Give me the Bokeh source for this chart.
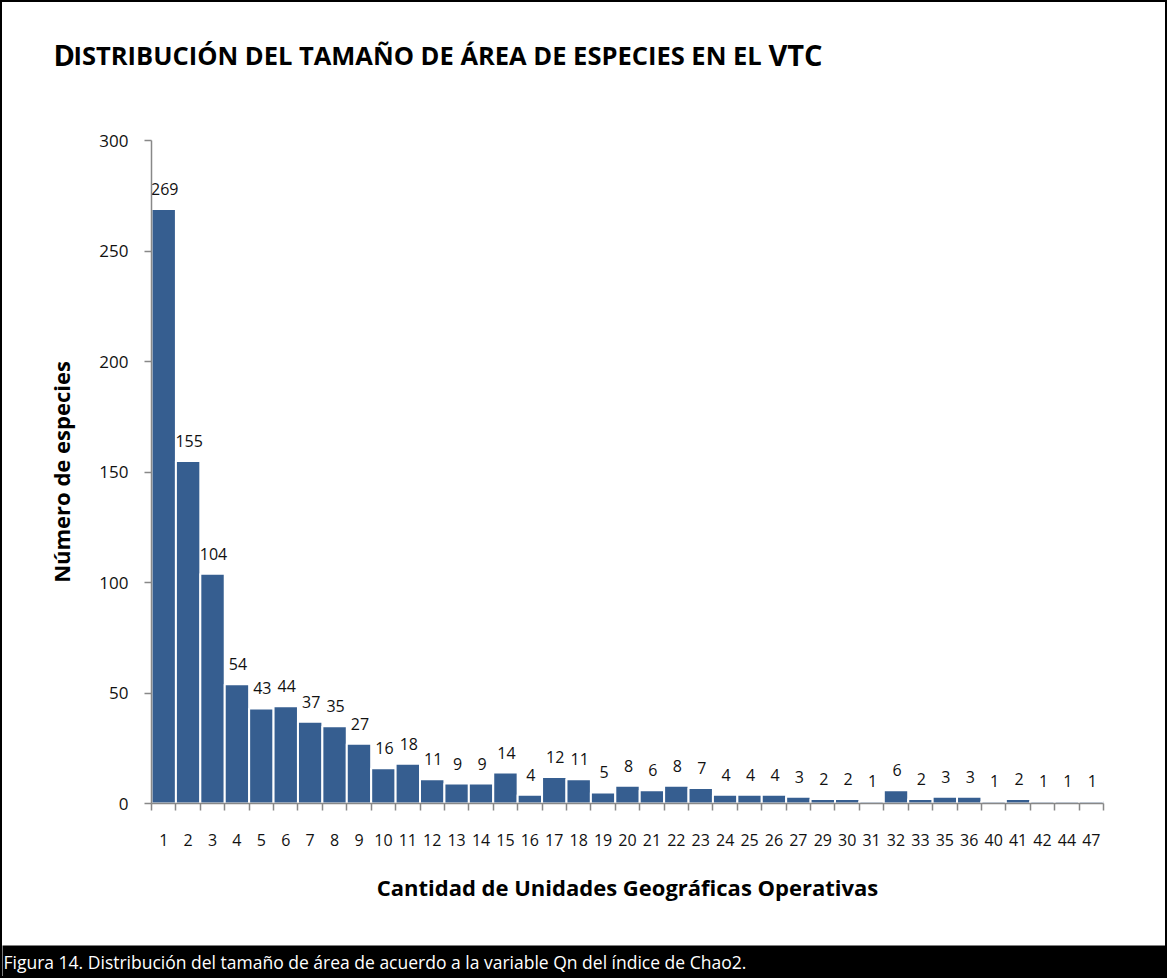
from bokeh.plotting import figure
from bokeh.layouts import column
from bokeh.models import FixedTicker, Range1d, ColumnDataSource
from bokeh.core.properties import value
from bokeh.embed import file_html
from bokeh.resources import INLINE

# ---- data ----
categories = ["1", "2", "3", "4", "5", "6", "7", "8", "9", "10", "11", "12", "13",
              "14", "15", "16", "17", "18", "19", "20", "21", "22", "23", "24", "25",
              "26", "27", "29", "30", "31", "32", "33", "35", "36", "40", "41", "42",
              "44", "47"]
counts = [269, 155, 104, 54, 43, 44, 37, 35, 27, 16, 18, 11, 9, 9, 14, 4, 12, 11, 5,
          8, 6, 8, 7, 4, 4, 4, 3, 2, 2, 1, 6, 2, 3, 3, 1, 2, 1, 1, 1]
y_ticks = [0, 50, 100, 150, 200, 250, 300]

title_big_1 = "D"
title_small = "ISTRIBUCIÓN DEL TAMAÑO DE ÁREA DE ESPECIES EN EL"
title_big_2 = "VTC"
x_label = "Cantidad de Unidades Geográficas Operativas"
y_label = "Número de especies"
caption = "Figura 14. Distribución del tamaño de área de acuerdo a la variable Qn del índice de Chao2."

IW = 1163            # inner width (inside 2px black frame)
H_TITLE, H_MAIN, H_CAP = 98, 845, 31
BAR = "#365E90"
AXIS = "#888888"
NUMFONT = "Open Sans"
FONT = "Open Sans"


def blank(height, bg):
    f = figure(width=IW, height=height, output_backend="svg", toolbar_location=None,
               x_range=Range1d(0, IW), y_range=Range1d(height, 0),
               x_axis_location=None, y_axis_location=None,
               min_border=0, min_border_left=0, min_border_right=0,
               min_border_top=0, min_border_bottom=0, frame_align=False)
    f.outline_line_color = None
    f.grid.grid_line_color = None
    f.background_fill_color = bg
    f.border_fill_color = bg
    return f


# ---- title strip (small caps emulated with two sizes) ----
t = blank(H_TITLE, "white")
t.text(x=[51], y=[52], text=[title_big_1], text_font=value(FONT), text_font_style="bold",
       text_font_size="29px", text_baseline="alphabetic", text_align="left",
       text_color="black")
t.text(x=[71], y=[52], text=[title_small], text_font=value(FONT), text_font_style="bold",
       text_font_size="25.5px", text_baseline="alphabetic", text_align="left",
       text_color="black")
t.text(x=[820], y=[52], text=[title_big_2], text_font=value(FONT), text_font_style="bold",
       text_font_size="29px", text_baseline="alphabetic", text_align="right",
       text_color="black")

# ---- main chart ----
pos = list(range(1, len(categories) + 1))
src = ColumnDataSource(dict(x=pos, top=counts, lab=[str(c) for c in counts]))

p = figure(width=IW, height=H_MAIN, output_backend="svg", toolbar_location=None,
           x_range=Range1d(0.5, len(categories) + 0.5), y_range=Range1d(0, 300),
           min_border_left=149, min_border_right=62, min_border_top=40,
           min_border_bottom=142, frame_align=False)
p.outline_line_color = None
p.grid.grid_line_color = None
p.background_fill_color = "white"
p.border_fill_color = "white"

p.vbar(x="x", top="top", width=1.0, source=src, fill_color=BAR,
       line_color="white", line_width=2)
p.text(x="x", y="top", text="lab", source=src, text_align="center",
       text_baseline="alphabetic", y_offset=-20, x_offset=1, text_font=value(NUMFONT),
       text_font_size="16px", text_color="#111111")

ya = p.yaxis[0]
ya.ticker = FixedTicker(ticks=y_ticks)
ya.minor_tick_line_color = None
ya.major_tick_in = 0
ya.major_tick_out = 7
ya.axis_line_color = AXIS
ya.axis_line_width = 1.5
ya.major_tick_line_color = AXIS
ya.major_tick_line_width = 1.5
ya.major_label_text_font = NUMFONT
ya.major_label_text_font_size = "17px"
ya.major_label_text_color = "#111111"
ya.major_label_standoff = 16
ya.axis_label = y_label
ya.axis_label_text_font = FONT
ya.axis_label_text_font_style = "bold"
ya.axis_label_text_font_size = "22px"
ya.axis_label_text_color = "black"
ya.axis_label_standoff = 20

xa = p.xaxis[0]
xa.ticker = FixedTicker(ticks=pos, minor_ticks=[i + 0.5 for i in range(len(categories) + 1)])
xa.major_label_overrides = {i: c for i, c in zip(pos, categories)}
xa.major_tick_in = 0
xa.major_tick_out = 0
xa.minor_tick_in = 0
xa.minor_tick_out = 7
xa.minor_tick_line_color = AXIS
xa.minor_tick_line_width = 1.5
xa.axis_line_color = AXIS
xa.axis_line_width = 1.5
xa.major_label_text_font = NUMFONT
xa.major_label_text_font_size = "16px"
xa.major_label_text_color = "#111111"
xa.major_label_standoff = 23
xa.axis_label = x_label
xa.axis_label_text_font = FONT
xa.axis_label_text_font_style = "bold"
xa.axis_label_text_font_size = "22px"
xa.axis_label_text_color = "black"
xa.axis_label_standoff = 23

# ---- caption strip ----
c = blank(H_CAP, "black")
c.text(x=[1], y=[16], text=[caption], text_font=value(FONT), text_font_size="17.5px",
       text_color="white", text_baseline="middle", text_align="left")

layout = column(t, p, c, spacing=0, styles={"border": "2px solid black"})

open("out.html", "w").write(file_html(layout, INLINE))
